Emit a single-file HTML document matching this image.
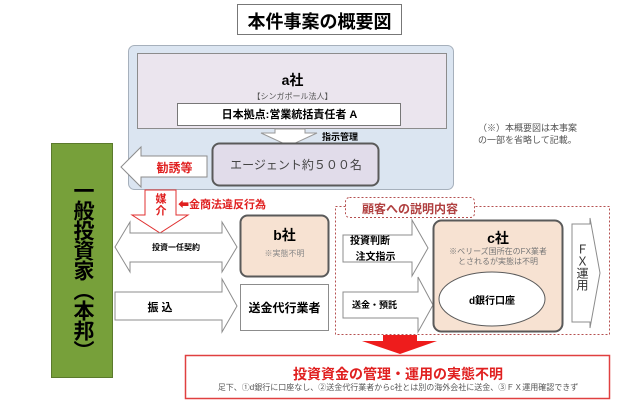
<!DOCTYPE html>
<html><head><meta charset="utf-8"><style>
body{margin:0;width:640px;height:410px;background:#fff;position:relative;overflow:hidden;font-family:"Liberation Sans","Noto Sans CJK JP",sans-serif}
.a{position:absolute}
.t{position:absolute;white-space:nowrap;text-align:center}
.v{position:absolute;writing-mode:vertical-rl;white-space:nowrap}
</style></head><body>
<svg class="a" style="left:0;top:0" width="640" height="410">
<rect x="128.5" y="45.5" width="325" height="144" rx="6" fill="#dbe5f1" stroke="#a6b0bc"/>
<rect x="137.5" y="53.5" width="309" height="75" fill="#ebe5ee" stroke="#8c8c8c"/>
<rect x="177.5" y="103.5" width="223" height="22" fill="#fff" stroke="#777"/>
<polygon points="275,129 305,129 305,133 317,133 289,146 261,133 275,133" fill="#fff" stroke="#999"/>
<rect x="212.5" y="143.5" width="166" height="42" rx="7" fill="#e1dcea" stroke="#5a5a5a" stroke-width="2"/>
<polygon points="207,156 141,156 141,147 121,167 141,187 141,177 207,177" fill="#fff" stroke="#8c8c8c"/>
<rect x="51.5" y="143.5" width="61" height="234" fill="#77a03a" stroke="#5b7a2c"/>
<polygon points="145,190 176,190 176,215 188,215 160,233 132,215 145,215" fill="#fff" stroke="#e03030"/>
<polygon points="130,233 222,233 222,222 237,247 222,272 222,262 130,262 130,272 115,247 130,222" fill="#fff" stroke="#8c8c8c"/>
<polygon points="115,292 222,292 222,279 237,306 222,332 222,320 115,320" fill="#fff" stroke="#8c8c8c"/>
<rect x="240.5" y="215.5" width="88" height="61" rx="7" fill="#f7e2d2" stroke="#5a5a5a" stroke-width="2"/>
<rect x="240.5" y="284.5" width="88" height="46" fill="#fff" stroke="#8c8c8c"/>
<rect x="335.5" y="206.5" width="274" height="128" fill="none" stroke="#b55050" stroke-dasharray="2,2"/>
<rect x="345.5" y="197.5" width="129" height="20" rx="4" fill="#fff" stroke="#b55050" stroke-dasharray="2,2"/>
<polygon points="343,235 412,235 412,220 428,248 412,276 412,262 343,262" fill="#fff" stroke="#8c8c8c"/>
<polygon points="343,292 418,292 418,277 433,305 418,332 418,318 343,318" fill="#fff" stroke="#8c8c8c"/>
<rect x="433.5" y="220.5" width="129" height="111" rx="8" fill="#f7e2d2" stroke="#5a5a5a" stroke-width="2"/>
<ellipse cx="492" cy="299" rx="53" ry="27" fill="#fff" stroke="#5a5a5a"/>
<polygon points="572,224 590,224 590,218 600,273 590,328 590,322 572,322" fill="#fff" stroke="#8c8c8c"/>
<polygon points="383,335 417,335 417,341 437,341 400,354 362,341 383,341" fill="#ee1c1c"/>
<rect x="185.5" y="355.5" width="424" height="43" fill="#fff" stroke="#e04040" stroke-width="1.5"/>
<rect x="237.5" y="4.5" width="164" height="30" fill="#fff" stroke="#777"/>
</svg>
<div class="t" style="left:237px;top:8px;width:165px;font-size:18px;font-weight:bold">本件事案の概要図</div>
<div class="t" style="left:138px;top:70px;width:309px;font-size:14px;font-weight:bold">a社</div>
<div class="t" style="left:138px;top:91px;width:309px;font-size:8px;color:#555">【シンガポール法人】</div>
<div class="t" style="left:178px;top:106px;width:223px;font-size:11px;font-weight:bold">日本拠点:営業統括責任者 A</div>
<div class="t" style="left:322px;top:130px;font-size:9px;font-weight:bold">指示管理</div>
<div class="t" style="left:213px;top:156px;width:166px;font-size:12px;color:#444">エージェント約５００名</div>
<div class="t" style="left:142px;top:159px;width:65px;font-size:12px;font-weight:bold;color:#e02020">勧誘等</div>
<div class="t" style="left:478px;top:122px;font-size:9px;color:#555;line-height:12px;text-align:left">（※）本概要図は本事案<br>の一部を省略して記載。</div>
<div class="v" style="left:69px;top:180px;width:26px;font-size:21px;font-weight:bold;line-height:26px;letter-spacing:-1px">一般投資家（本邦）</div>
<div class="v" style="left:153px;top:193px;width:14px;font-size:11px;font-weight:bold;color:#e02020;line-height:14px;letter-spacing:1px">媒介</div>
<div class="t" style="left:178px;top:196px;font-size:11px;font-weight:bold;color:#e02020">⬅金商法違反行為</div>
<div class="t" style="left:130px;top:242px;width:92px;font-size:8px;font-weight:bold">投資一任契約</div>
<div class="t" style="left:240px;top:225px;width:89px;font-size:14px;font-weight:bold">b社</div>
<div class="t" style="left:240px;top:248px;width:89px;font-size:8px;color:#888">※実態不明</div>
<div class="t" style="left:130px;top:299px;width:60px;font-size:11px;font-weight:bold">振 込</div>
<div class="t" style="left:240px;top:299px;width:89px;font-size:12px;font-weight:bold">送金代行業者</div>
<div class="t" style="left:345px;top:200px;width:130px;font-size:12px;font-weight:bold;color:#b04040">顧客への説明内容</div>
<div class="t" style="left:350px;top:234px;font-size:10px;font-weight:bold;text-align:left;line-height:16px">投資判断<br>&nbsp;&nbsp;注文指示</div>
<div class="t" style="left:352px;top:298px;font-size:9px;font-weight:bold">送金・預託</div>
<div class="t" style="left:433px;top:228px;width:130px;font-size:14px;font-weight:bold">c社</div>
<div class="t" style="left:433px;top:247px;width:130px;font-size:8px;color:#777;line-height:10px">※ベリーズ国所在のFX業者<br>とされるが実態は不明</div>
<div class="t" style="left:439px;top:292px;width:106px;font-size:10px;font-weight:bold">d銀行口座</div>
<div class="v" style="left:574px;top:243px;width:16px;font-size:12px;line-height:16px;color:#333">ＦＸ運用</div>
<div class="t" style="left:186px;top:364px;width:424px;font-size:14px;font-weight:bold;color:#e02020">投資資金の管理・運用の実態不明</div>
<div class="t" style="left:186px;top:382px;width:424px;font-size:8px;color:#555">足下、①d銀行に口座なし、②送金代行業者からc社とは別の海外会社に送金、③ＦＸ運用確認できず</div>
</body></html>
